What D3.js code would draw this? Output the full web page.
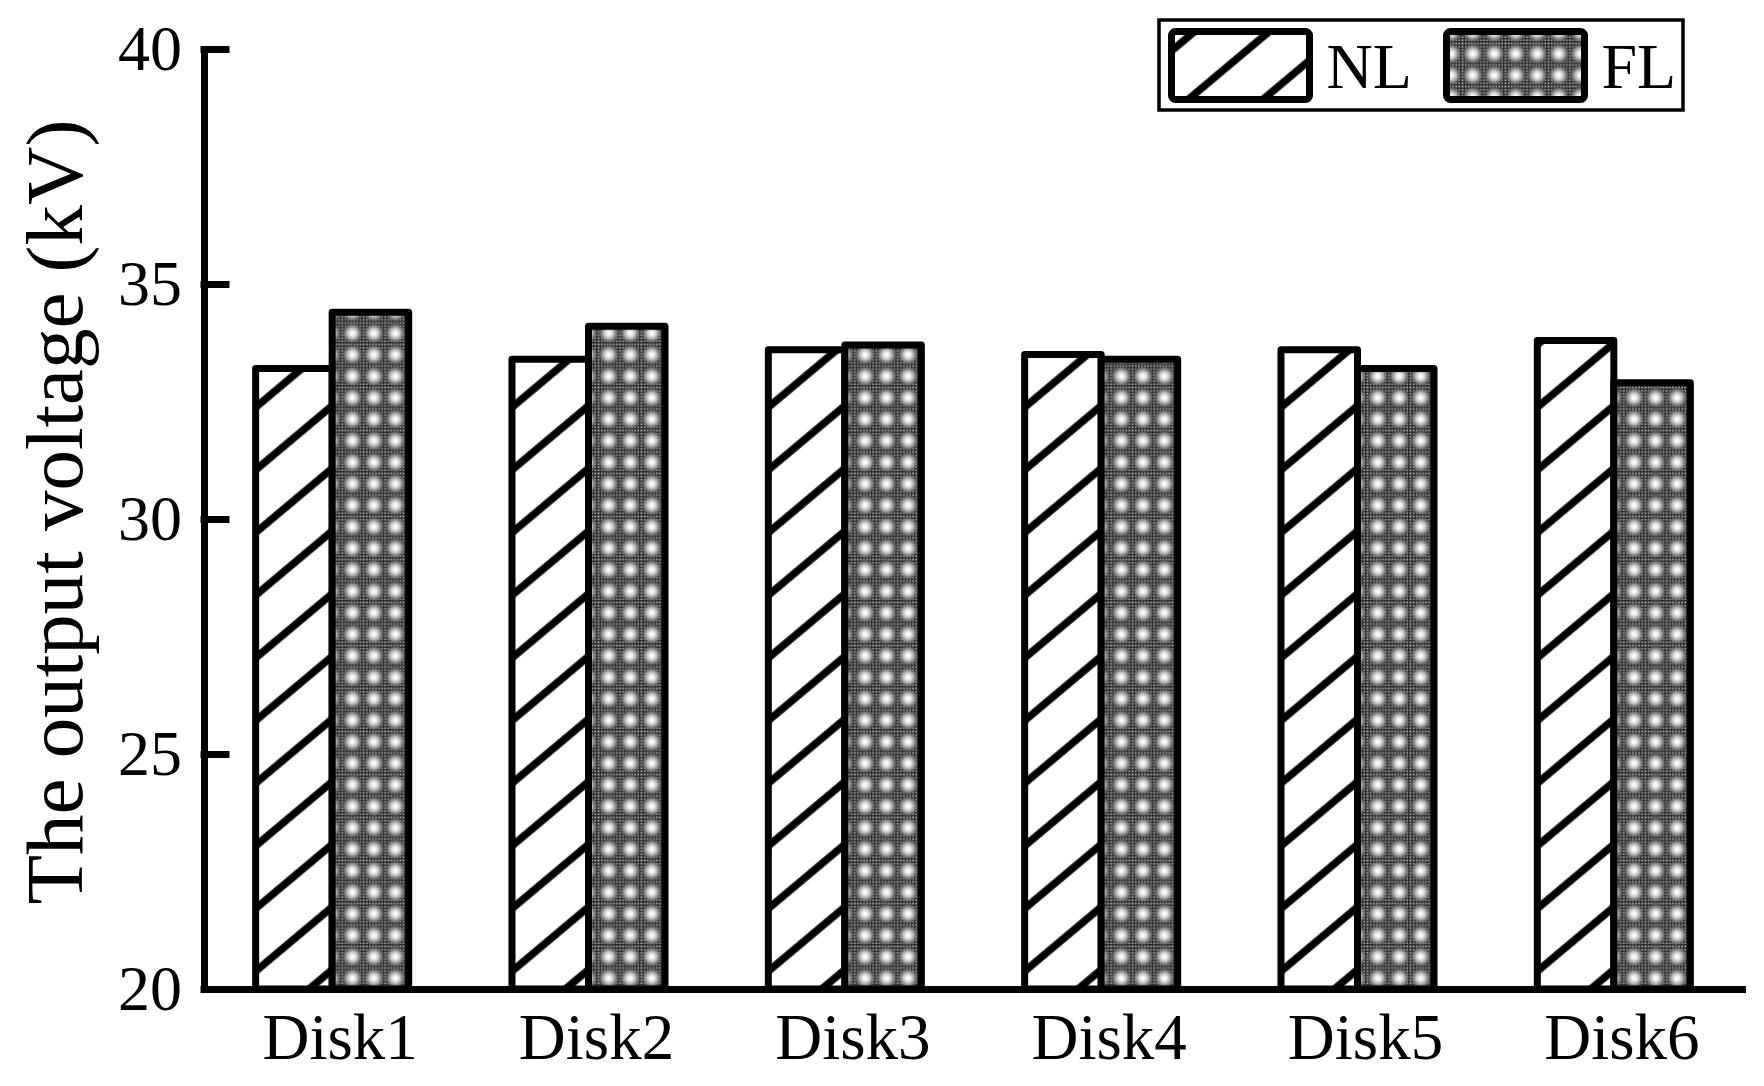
<!DOCTYPE html>
<html>
<head>
<meta charset="utf-8">
<script src="https://cdn.jsdelivr.net/npm/d3@7"></script>
<style>
  html, body { margin: 0; padding: 0; background: #fff; }
  svg { display: block; }
  svg text { font-family: 'Liberation Serif', Tinos, 'Times New Roman', Times, 'DejaVu Serif', serif; }
</style>
</head>
<body>
<svg id="chart" width="1764" height="1086"></svg>
<script>
// data
const disks = ['Disk1', 'Disk2', 'Disk3', 'Disk4', 'Disk5', 'Disk6'];
const seriesNames = ['NL', 'FL'];
const nlValues = [33.2, 33.4, 33.6, 33.5, 33.6, 33.8];
const flValues = [34.4, 34.1, 33.7, 33.4, 33.2, 32.9];
const yTicks = [20, 25, 30, 35, 40];

const svg = d3.select('#chart');
const font = "'Liberation Serif', Tinos, 'Times New Roman', Times, 'DejaVu Serif', serif";

// Scales
const x0 = d3.scaleBand()
    .domain(disks)
    .range([204, 1742])
    .paddingInner(0.403)
    .paddingOuter(0.2015);

const x1 = d3.scaleBand()
    .domain(seriesNames)
    .range([0, x0.bandwidth()]);

const y = d3.scaleLinear()
    .domain([20, 40])
    .range([989, 49]);

const rows = disks.map((d, i) => ({ disk: d, NL: nlValues[i], FL: flValues[i] }));

// Patterns
const defs = svg.append('defs');

defs.append('pattern')
    .attr('id', 'hatch')
    .attr('patternUnits', 'userSpaceOnUse')
    .attr('width', 10)
    .attr('height', 48)
    .attr('patternTransform', 'rotate(-40)')
    .call(p => {
        p.append('rect').attr('width', 10).attr('height', 48).attr('fill', '#fff');
        p.append('line')
            .attr('x1', -1).attr('x2', 11)
            .attr('y1', 24).attr('y2', 24)
            .attr('stroke', '#000')
            .attr('stroke-width', 7.5);
    });

defs.append('pattern')
    .attr('id', 'checker')
    .attr('patternUnits', 'userSpaceOnUse')
    .attr('width', 3)
    .attr('height', 3)
    .call(p => {
        p.append('rect').attr('width', 3).attr('height', 3).attr('fill', '#2a2a2a');
        p.append('rect').attr('width', 1.5).attr('height', 1.5).attr('fill', '#a8a8a8');
    });

const grad = defs.append('radialGradient').attr('id', 'dot');
grad.append('stop').attr('offset', '0%').attr('stop-color', '#ffffff').attr('stop-opacity', 1);
grad.append('stop').attr('offset', '20%').attr('stop-color', '#f2f2f2').attr('stop-opacity', 1);
grad.append('stop').attr('offset', '50%').attr('stop-color', '#b4b4b4').attr('stop-opacity', 1);
grad.append('stop').attr('offset', '80%').attr('stop-color', '#6e6e6e').attr('stop-opacity', 0.7);
grad.append('stop').attr('offset', '100%').attr('stop-color', '#404040').attr('stop-opacity', 0);

defs.append('pattern')
    .attr('id', 'dots')
    .attr('patternUnits', 'userSpaceOnUse')
    .attr('width', 21.5)
    .attr('height', 21.5)
    .call(p => {
        p.append('rect').attr('width', 21.5).attr('height', 21.5).attr('fill', 'url(#checker)');
        p.append('circle')
            .attr('cx', 10.75).attr('cy', 10.75).attr('r', 10.75)
            .attr('fill', 'url(#dot)');
    });

const fills = { NL: 'url(#hatch)', FL: 'url(#dots)' };

// Bars
const groups = svg.append('g')
    .selectAll('g')
    .data(rows)
    .join('g')
    .attr('transform', d => `translate(${x0(d.disk)},0)`);

groups.selectAll('rect')
    .data(d => seriesNames.map(s => ({ key: s, value: d[s] })))
    .join('rect')
    .attr('x', d => x1(d.key))
    .attr('y', d => y(d.value))
    .attr('width', x1.bandwidth())
    .attr('height', d => y(20) - y(d.value))
    .attr('fill', d => fills[d.key])
    .attr('stroke', '#000')
    .attr('stroke-width', 7)
    .attr('stroke-linejoin', 'round');

// Y axis, ticks pointing inward
const yAxis = svg.append('g')
    .attr('transform', 'translate(204,0)')
    .call(d3.axisLeft(y).tickValues(yTicks).tickSizeInner(-22).tickSizeOuter(0).tickPadding(22));

yAxis.attr('font-family', null);
yAxis.selectAll('path, line')
    .attr('stroke', '#000')
    .attr('stroke-width', 7)
    .attr('stroke-linecap', 'square');
yAxis.selectAll('text')
    .style('font-family', font)
    .style('font-size', '64px')
    .attr('fill', '#000');

// X axis
const xAxis = svg.append('g')
    .attr('transform', `translate(0,${y(20)})`)
    .call(d3.axisBottom(x0).tickSize(0));

xAxis.attr('font-family', null);
xAxis.select('.domain')
    .attr('stroke', '#000')
    .attr('stroke-width', 7)
    .attr('stroke-linecap', 'square');
xAxis.selectAll('text')
    .attr('x', 8)
    .attr('y', 70)
    .attr('dy', 0)
    .style('font-family', font)
    .style('font-size', '65px')
    .attr('fill', '#000');

// Y axis title
svg.append('text')
    .attr('transform', 'translate(82,512) rotate(-90)')
    .attr('text-anchor', 'middle')
    .style('font-family', font)
    .style('font-size', '81px')
    .attr('fill', '#000')
    .text('The output voltage (kV)');

// Legend
const legend = svg.append('g');

legend.append('rect')
    .attr('x', 1159)
    .attr('y', 20)
    .attr('width', 524)
    .attr('height', 90)
    .attr('fill', '#fff')
    .attr('stroke', '#000')
    .attr('stroke-width', 3.5);

const legendX = { NL: 1171.5, FL: 1446.5 };

seriesNames.forEach(s => {
    legend.append('rect')
        .attr('x', legendX[s])
        .attr('y', 31.5)
        .attr('width', 138)
        .attr('height', 68)
        .attr('rx', 4)
        .attr('fill', fills[s])
        .attr('stroke', '#000')
        .attr('stroke-width', 7);

    legend.append('text')
        .attr('x', legendX[s] + 155)
        .attr('y', 88)
        .style('font-family', font)
        .style('font-size', '64px')
        .attr('fill', '#000')
        .text(s);
});
</script>
</body>
</html>
